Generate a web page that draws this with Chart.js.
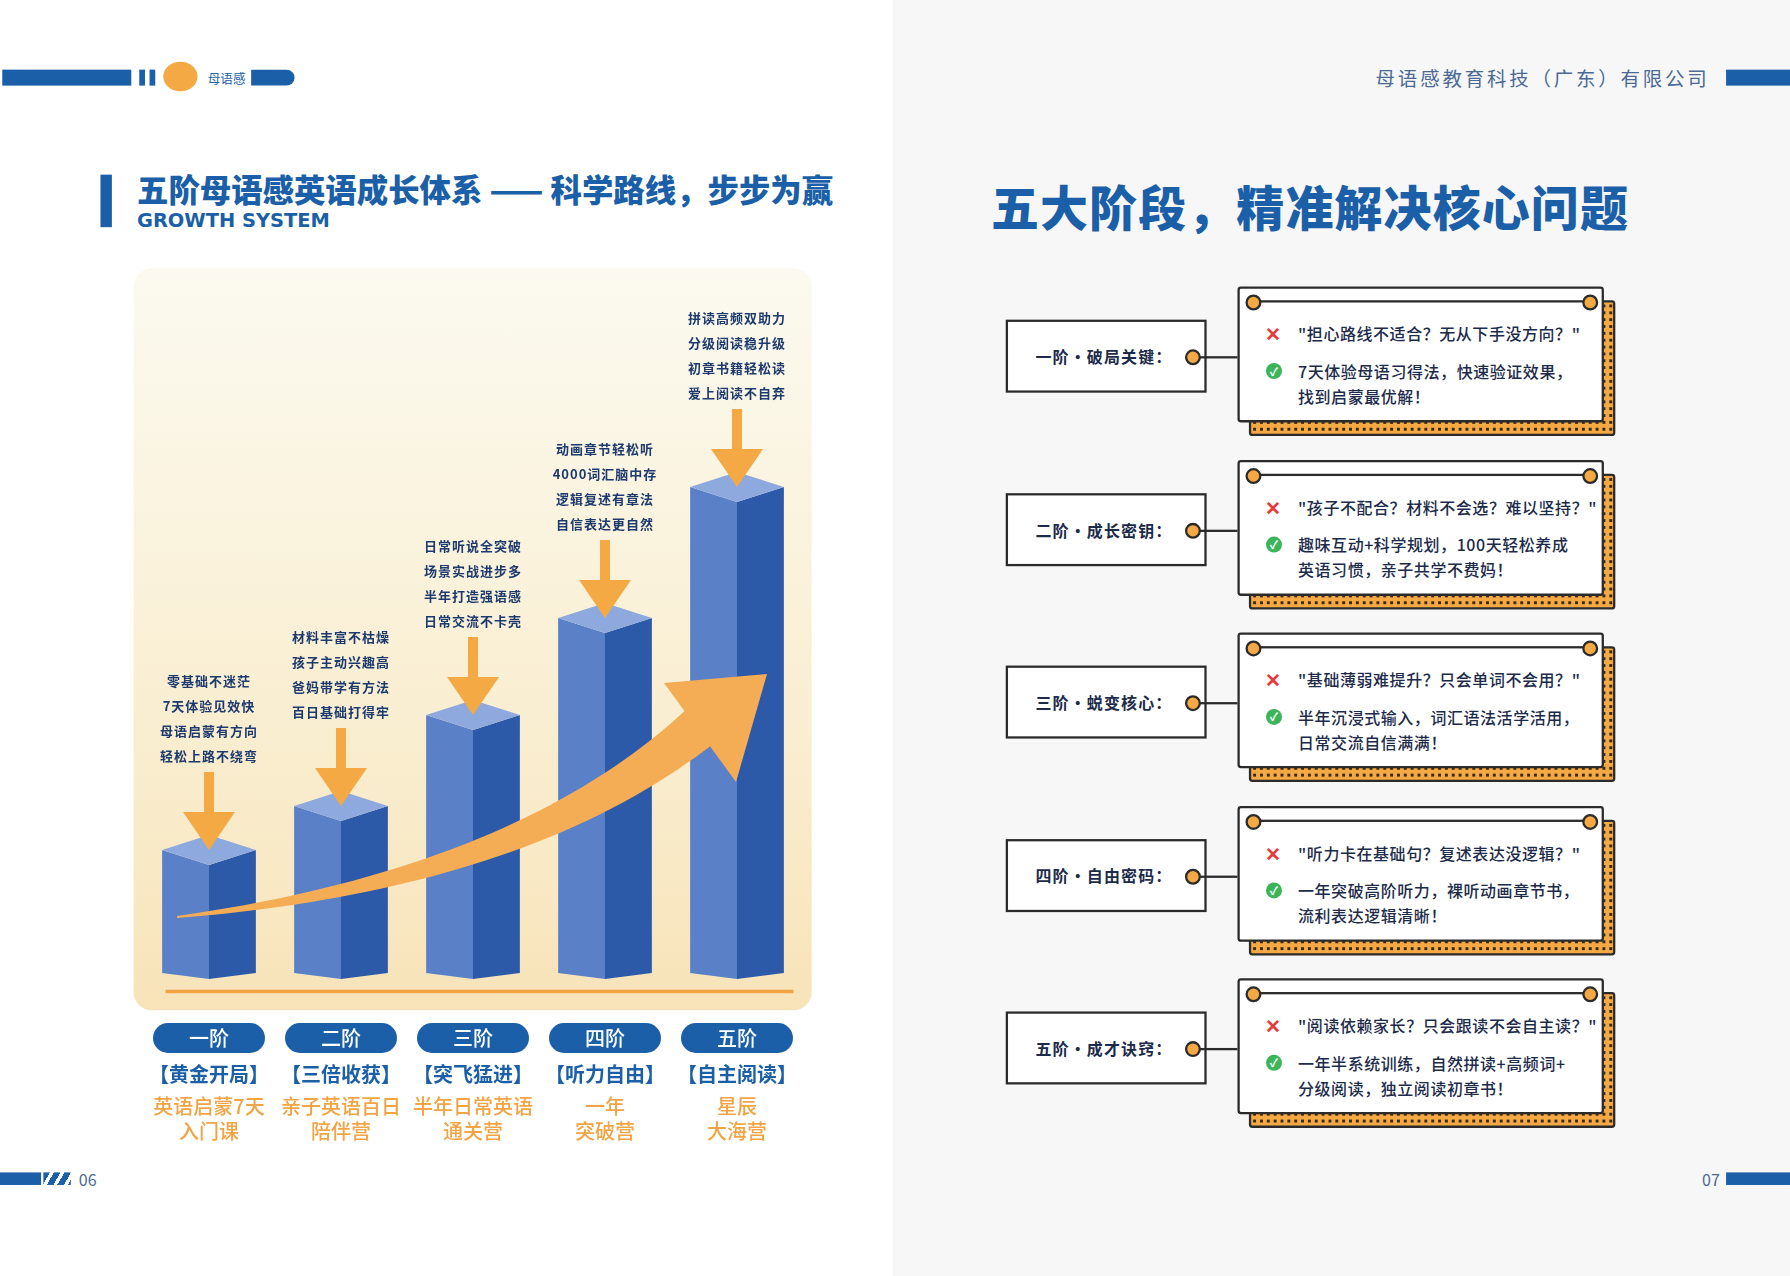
<!DOCTYPE html>
<html><head><meta charset="utf-8">
<script src="https://cdn.jsdelivr.net/npm/chart.js@4.4.0/dist/chart.umd.min.js"></script>
<style>
body{margin:0;width:1790px;height:1276px;overflow:hidden;background:#fff;font-family:"Noto Sans CJK SC","Noto Sans",sans-serif;position:relative}
#deco{position:absolute;left:0;top:0;width:1568px;height:1118px;transform:scale(1.14158);transform-origin:0 0}
.a{position:absolute}
.lab{position:absolute;left:881px;width:176px;height:64px;border:2px solid #2b2b2b;background:#fff;font-weight:700;font-size:14px;color:#1d2b4a;line-height:60px;box-sizing:border-box;padding-left:24px;letter-spacing:1px}
.dot{position:absolute;width:10px;height:10px;border-radius:50%;background:#f4a945;border:2px solid #2b2b2b}
.card{position:absolute;left:1084px;width:321px;height:119px;border:2px solid #2b2b2b;background:#fff;box-sizing:border-box;border-radius:3px}
.sh{position:absolute;left:1094px;width:321px;height:119px;border:2px solid #2b2b2b;background:#f4a945;box-sizing:border-box;border-radius:3px;
 background-image:radial-gradient(circle,#3a2a10 1.3px,transparent 1.6px);background-size:6px 6px}
.shin{position:absolute;left:1096px;width:305px;height:103px;background:#f4a945}
.q{position:absolute;font-size:14px;color:#1d2b4a;font-weight:500;letter-spacing:.5px}
</style></head><body>
<div class="a" style="left:893px;top:0;width:897px;height:1276px;background:#f7f7f7"></div>
<div id="deco">
 <div class="a" style="left:117px;top:235px;width:594px;height:650px;border-radius:16px;background:linear-gradient(#fbfaf0,#f9eccc 70%,#f8e3b8)"></div>
 <div class="a" style="left:145px;top:867px;width:550px;height:3px;background:#f2a444"></div>
 <div class="a" style="left:2px;top:61px;width:113px;height:14px;background:#1a5fa8"></div>
 <div class="a" style="left:122px;top:61px;width:5px;height:14px;background:#1a5fa8"></div>
 <div class="a" style="left:131px;top:61px;width:5px;height:14px;background:#1a5fa8"></div>
 <div class="a" style="left:143px;top:54px;width:30px;height:26px;border-radius:50%;background:#f4a945"></div>
 <div class="a" style="left:182px;top:61px;font-size:11px;color:#1a5fa8;line-height:14px">母语感</div>
 <div class="a" style="left:220px;top:61px;width:38px;height:14px;border-radius:0 7px 7px 0;background:#1a5fa8"></div>
 <div class="a" style="left:1205px;top:56px;font-size:17px;color:#4a6a95;letter-spacing:2.5px;line-height:24px">母语感教育科技（广东）有限公司</div>
 <div class="a" style="left:1512px;top:61px;width:56px;height:14px;background:#1a5fa8"></div>
 <div class="a" style="left:88px;top:153px;width:10px;height:46px;background:#1a5fa8"></div>
 <div class="a" style="left:120px;top:147px;font-size:27.5px;font-weight:900;color:#1a5fa8;line-height:36px;white-space:nowrap">五阶母语感英语成长体系 —— 科学路线，步步为赢</div>
 <div class="a" style="left:120px;top:182px;font-size:17px;font-weight:900;color:#1a5fa8;line-height:22px;font-family:'DejaVu Sans'">GROWTH SYSTEM</div>
 <div class="a" style="left:868px;top:152px;font-size:42px;font-weight:900;color:#1a5fa8;line-height:56px;letter-spacing:1px;white-space:nowrap">五大阶段，精准解决核心问题</div>
 <div class="a" style="left:0;top:1027px;width:36px;height:11px;background:#1a5fa8"></div>
 <div class="a" style="left:38px;top:1027px;width:24px;height:11px;background:repeating-linear-gradient(120deg,#1a5fa8 0 5px,transparent 5px 8px)"></div>
 <div class="a" style="left:69px;top:1023px;font-size:14px;color:#4a6a95">06</div>
 <div class="a" style="left:1491px;top:1023px;font-size:14px;color:#4a6a95">07</div>
 <div class="a" style="left:1512px;top:1027px;width:56px;height:11px;background:#1a5fa8"></div>
 <div id="cards"></div>
</div>
<canvas id="c" style="position:absolute;left:143px;top:279px;width:660px;height:871px"></canvas>
<script>
const categories=["一阶","二阶","三阶","四阶","五阶"];
const stageNames=["【黄金开局】","【三倍收获】","【突飞猛进】","【听力自由】","【自主阅读】"];
const campLines=[["英语启蒙7天","入门课"],["亲子英语百日","陪伴营"],["半年日常英语","通关营"],["一年","突破营"],["星辰","大海营"]];
const barValues=[114,158,249,346,477];
const barNotes=[["零基础不迷茫","7天体验见效快","母语启蒙有方向","轻松上路不绕弯"],["材料丰富不枯燥","孩子主动兴趣高","爸妈带学有方法","百日基础打得牢"],["日常听说全突破","场景实战进步多","半年打造强语感","日常交流不卡壳"],["动画章节轻松听","4000词汇脑中存","逻辑复述有章法","自信表达更自然"],["拼读高频双助力","分级阅读稳升级","初章书籍轻松读","爱上阅读不自弃"]];
const cardLabels=["一阶·破局关键：","二阶·成长密钥：","三阶·蜕变核心：","四阶·自由密码：","五阶·成才诀窍："];
const cardQuestions=["\"担心路线不适合？无从下手没方向？\"","\"孩子不配合？材料不会选？难以坚持？\"","\"基础薄弱难提升？只会单词不会用？\"","\"听力卡在基础句？复述表达没逻辑？\"","\"阅读依赖家长？只会跟读不会自主读？\""];
const cardAnswers=[["7天体验母语习得法，快速验证效果，","找到启蒙最优解！"],["趣味互动+科学规划，100天轻松养成","英语习惯，亲子共学不费妈！"],["半年沉浸式输入，词汇语法活学活用，","日常交流自信满满！"],["一年突破高阶听力，裸听动画章节书，","流利表达逻辑清晰！"],["一年半系统训练，自然拼读+高频词+","分级阅读，独立阅读初章书！"]];

let h='';
cardLabels.forEach((l,i)=>{const t=251+i*151.5;
 h+=`<div class="sh" style="top:${t+12}px"></div><div class="shin" style="top:${t+14}px"></div>
 <div class="card" style="top:${t}px"></div>
 <div class="a" style="left:1098px;top:${t+12}px;width:295px;height:2px;background:#2b2b2b"></div>
 <div class="dot" style="left:1091px;top:${t+7}px"></div><div class="dot" style="left:1386px;top:${t+7}px"></div>
 <div class="lab" style="top:${t+29}px">${l}</div>
 <div class="a" style="left:1051px;top:${t+61}px;width:33px;height:2px;background:#2b2b2b"></div>
 <div class="dot" style="left:1038px;top:${t+55}px"></div>
 <div class="a" style="left:1108px;top:${t+30}px;color:#e83a3a;font-size:17px;font-weight:700;line-height:22px">✕</div>
 <div class="q" style="left:1137px;top:${t+30}px;line-height:22px">${cardQuestions[i]}</div>
 <div class="a" style="left:1109px;top:${t+67}px;width:14px;height:14px;border-radius:50%;background:#3cb55a;color:#fff;font-size:10px;line-height:14px;text-align:center;font-weight:700">✓</div>
 <div class="q" style="left:1137px;top:${t+63}px;line-height:22px">${cardAnswers[i][0]}<br>${cardAnswers[i][1]}</div>`;});
document.getElementById('cards').innerHTML=h;

const bars3d={id:'bars3d',afterDatasetsDraw(ch){
 const c=ch.ctx,meta=ch.getDatasetMeta(0);
 meta.data.forEach((b,i)=>{
  const x=b.x,T=b.y,B=b.base,w=b.width/2,d=15;
  c.fillStyle='#5a80c8';c.beginPath();c.moveTo(x-w,T-d);c.lineTo(x,T);c.lineTo(x,B);c.lineTo(x-w,B-6);c.closePath();c.fill();
  c.fillStyle='#2d5aa8';c.beginPath();c.moveTo(x+w,T-d);c.lineTo(x,T);c.lineTo(x,B);c.lineTo(x+w,B-6);c.closePath();c.fill();
  c.fillStyle='#8ea9de';c.beginPath();c.moveTo(x-w,T-d);c.lineTo(x,T);c.lineTo(x+w,T-d);c.lineTo(x,T-2*d);c.closePath();c.fill();
  const tip=T-d,tail=tip-78;
  c.fillStyle='#f4a945';c.fillRect(x-5,tail,10,50);
  c.beginPath();c.moveTo(x-26,tip-38);c.lineTo(x+26,tip-38);c.lineTo(x,tip);c.closePath();c.fill();
  c.fillStyle='#1d3a6e';c.font='600 13px "Noto Sans CJK SC"';c.textAlign='center';c.textBaseline='middle';
  c.letterSpacing='1px';
  barNotes[i].forEach((s,k)=>c.fillText(s,x,tail-16-(3-k)*25));
  c.letterSpacing='0px';
  const py=ch.chartArea.bottom+59;
  c.fillStyle='#1a5fa8';c.beginPath();c.roundRect(x-56,py-15,112,30,15);c.fill();
  c.fillStyle='#fff';c.font='500 20px "Noto Sans CJK SC"';c.fillText(categories[i],x,py);
  c.fillStyle='#1a5fa8';c.font='700 20px "Noto Sans CJK SC"';c.fillText(stageNames[i],x,py+36);
  c.fillStyle='#f2a444';c.font='500 20px "Noto Sans CJK SC"';
  c.fillText(campLines[i][0],x,py+68);c.fillText(campLines[i][1],x,py+93);
 });
 const P0=[34,638],P1=[380,600],P2=[560,445];
 const q=(t)=>[(1-t)*(1-t)*P0[0]+2*(1-t)*t*P1[0]+t*t*P2[0],(1-t)*(1-t)*P0[1]+2*(1-t)*t*P1[1]+t*t*P2[1]];
 const up=[],dn=[];
 for(let k=0;k<=40;k++){const t=k/40,p=q(t),p2=q(Math.min(1,t+0.01)),p1=q(Math.max(0,t-0.01));
  let dx=p2[0]-p1[0],dy=p2[1]-p1[1],L=Math.hypot(dx,dy);const nx=-dy/L,ny=dx/L,wd=1+t*21;
  up.push([p[0]+nx*wd,p[1]+ny*wd]);dn.push([p[0]-nx*wd,p[1]-ny*wd]);}
 c.fillStyle='#f5ad55';c.beginPath();c.moveTo(...up[0]);up.forEach(p=>c.lineTo(...p));
 dn.reverse().forEach(p=>c.lineTo(...p));c.closePath();c.fill();
 c.beginPath();c.moveTo(624,395);c.lineTo(521,404);c.lineTo(593,503);c.closePath();c.fill();
}};
new Chart(document.getElementById('c'),{type:'bar',
 data:{labels:categories,datasets:[{data:barValues,backgroundColor:'rgba(0,0,0,0)',barPercentage:0.71,categoryPercentage:1}]},
 options:{responsive:false,animation:false,devicePixelRatio:1,layout:{padding:{top:0,bottom:171,left:0,right:0}},
  plugins:{legend:{display:false},tooltip:{enabled:false}},
  scales:{x:{display:false},y:{display:false,min:0,max:700}}},
 plugins:[bars3d]});
</script>
</body></html>
